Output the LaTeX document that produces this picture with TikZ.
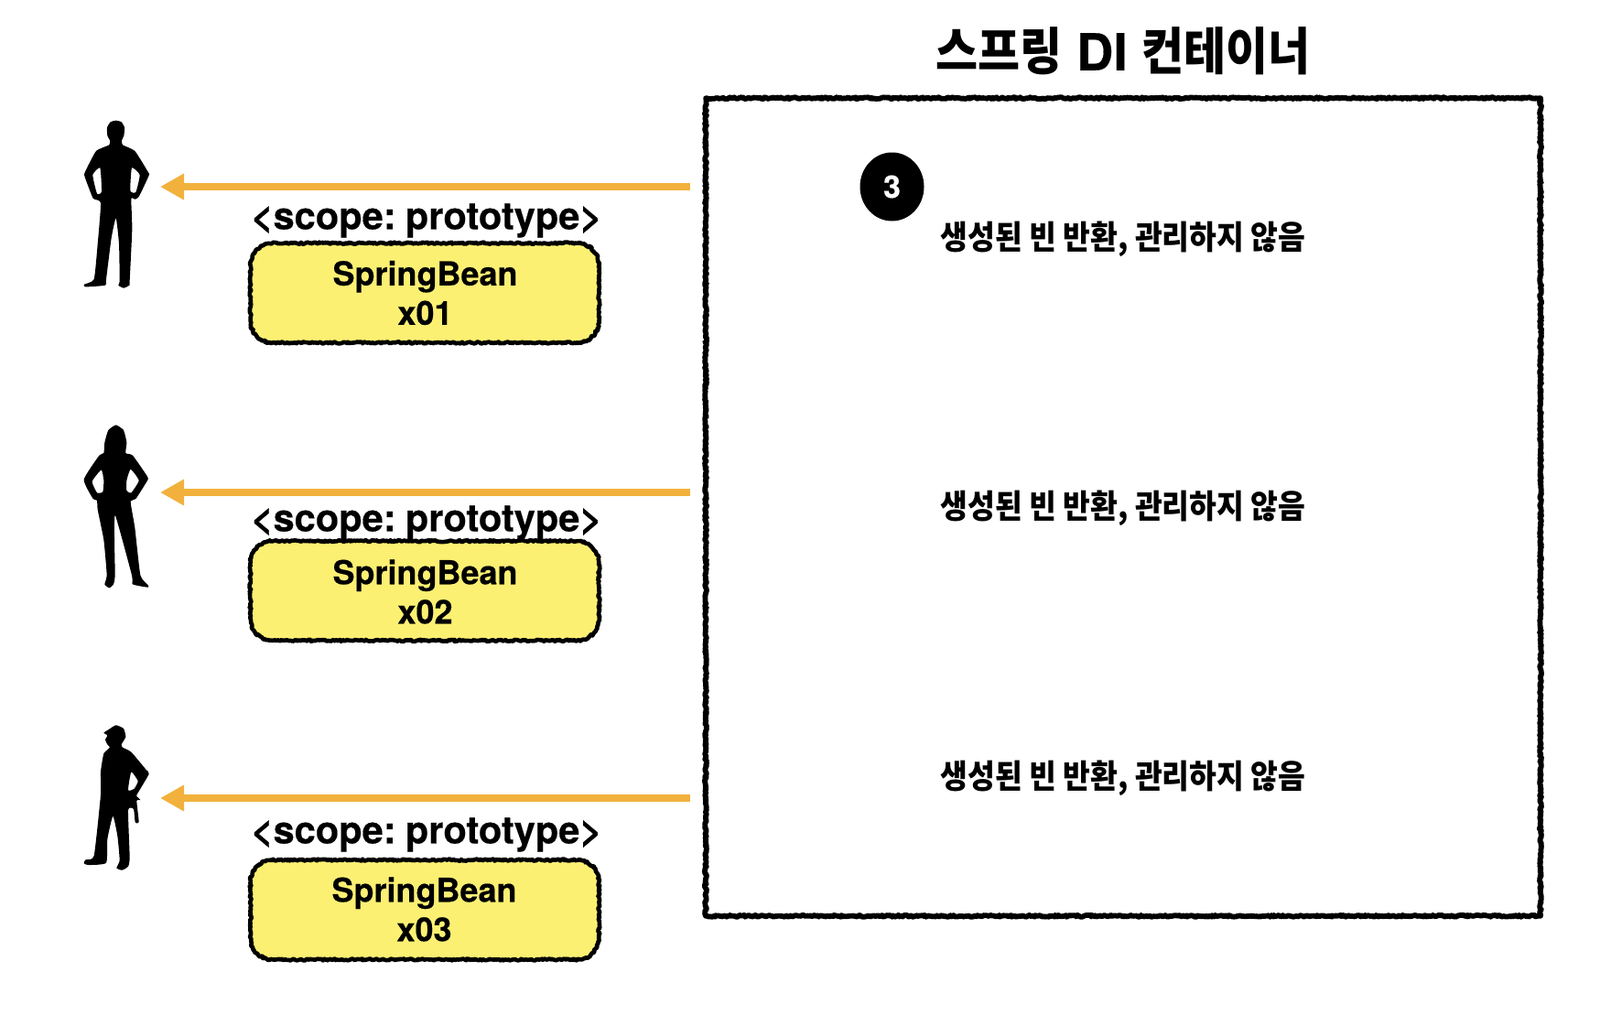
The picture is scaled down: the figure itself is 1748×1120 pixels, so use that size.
\documentclass[tikz,border=0pt]{standalone}
\usepackage{fontspec}
\setmainfont{TeX Gyre Heros}[BoldFeatures={FakeBold=0.35}]
\newfontfamily\labelfont{TeX Gyre Heros}[WordSpace=0.55,BoldFeatures={FakeBold=0.4}]
\newfontfamily\kor{Noto Sans CJK KR}[FakeStretch=0.9]
\usetikzlibrary{arrows.meta,decorations.pathmorphing,shapes.geometric}
\definecolor{myorange}{HTML}{F2B13C}
\definecolor{myyellow}{HTML}{FCF073}
\tikzstyle{rough}=[decorate,line join=round,decoration={random steps,segment length=0.8,amplitude=0.5}]
\tikzstyle{container}=[rough,draw=black,line width=2.9,minimum width=456,minimum height=446.8,inner sep=0]
\tikzstyle{bean}=[minimum width=190,minimum height=54,inner sep=0]
\tikzstyle{beanname}=[inner sep=0,align=center,font=\bfseries\fontsize{18}{21.5}\selectfont]
\tikzstyle{scopelabel}=[inner sep=0,font=\labelfont\bfseries\fontsize{20.8}{24}\selectfont]
\tikzstyle{message}=[inner sep=0,font=\kor\bfseries\fontsize{18}{22}\selectfont]
\tikzstyle{title}=[inner sep=0,font=\bfseries\fontsize{27.8}{32}\selectfont]
\tikzstyle{badge}=[ellipse,fill=black,text=white,minimum width=35,minimum height=37.5,inner sep=0,
                   font=\bfseries\fontsize{17}{20}\selectfont]
\tikzstyle{return}=[-{Triangle[length=13,width=13.5]},myorange,line width=3.6]
\tikzstyle{figure}=[smooth cycle,tension=0.3]
\def\rad{12pt}
\def\roughbox#1{ % yellow box with a charcoal edge
  \draw[rough,draw=black,fill=myyellow,line width=2.3]
    ([xshift=\rad]#1.north west) -- ([xshift=-\rad]#1.north east)
    arc[start angle=90,end angle=0,radius=\rad] -- ([yshift=\rad]#1.south east)
    arc[start angle=0,end angle=-90,radius=\rad] -- ([xshift=\rad]#1.south west)
    arc[start angle=270,end angle=180,radius=\rad] -- ([yshift=-\rad]#1.north west)
    arc[start angle=180,end angle=90,radius=\rad] -- cycle;
}
\def\man{ % zoomed pixels
  plot[figure] coordinates {(200,65) (218,70) (228,88) (226,115) (219,130) (222,145) (262,165) (306,235) (308,245)
    (275,315) (262,323) (250,322) (253,420) (245,590) (244,605) (225,614) (208,605) (212,590) (210,470)
    (200,385) (185,450) (168,585) (165,605) (100,610) (96,602) (128,585) (140,470) (150,335) (125,320)
    (98,250) (98,235) (135,165) (178,145) (180,130) (172,115) (171,88) (182,70)}
  plot[figure] coordinates {(252,220) (278,243) (265,300) (247,295)}
  plot[figure] coordinates {(148,220) (124,243) (138,305) (153,298)}
}
\def\woman{ % zoomed pixels
  plot[figure] coordinates {(200,43) (225,60) (235,100) (232,135) (255,143) (303,212) (303,225) (265,285)
    (248,295) (262,380) (280,535) (305,568) (305,575) (255,565) (252,535) (198,340) (195,420) (197,535)
    (192,565) (178,577) (163,565) (170,535) (160,420) (140,320) (138,290) (125,285) (95,222) (145,143)
    (160,135) (163,100) (175,60)}
  plot[figure] coordinates {(248,188) (275,225) (250,265) (235,258) (235,225)}
  plot[figure] coordinates {(152,190) (122,228) (138,265) (157,262) (160,225)}
}
\def\worker{ % zoomed pixels
  plot[figure] coordinates {(200,37) (225,48) (232,75) (218,100) (222,110) (250,125) (298,182) (308,197)
    (270,262) (268,270) (280,282) (268,285) (275,355) (263,355) (258,312) (240,315) (245,470) (240,500)
    (220,512) (202,505) (212,480) (205,400) (190,335) (172,410) (168,488) (110,495) (95,490) (100,478)
    (128,465) (150,265) (150,190) (160,130) (180,110) (172,100) (165,85) (172,70) (160,62) (178,50)}
  plot[figure] coordinates {(250,190) (272,220) (260,245) (240,250)}
}
\begin{document}
\begin{tikzpicture}[x=0.5pt,y=-0.5pt]
  \useasboundingbox (0,0) rectangle (1748,1120);
  \def\msg{생성된 빈 반환, 관리하지 않음}

  % CONTAINER
  \node[container] (box) at (1227,554) {};
  \node[title] (title) at (1227,56) {{\kor 스프링} DI {\kor 컨테이너}};
  \node[badge] (badge) at (974.5,204) {3};

  % ROWS
  \foreach \i/\ya/\ys/\yb/\yn/\ym/\xn in {1/204/241/320/320/261/464.5,2/538/571/645.5/646.5/555/464.5,3/872/912/994/993.5/850/463.5}{
    \coordinate (from\i) at (754,\ya);
    \coordinate (to\i) at (175,\ya);
    \draw[return] (from\i) -- (to\i);
    \node[scopelabel] (scope\i) at (466,\ys) {<scope: prototype>};
    \node[bean] (bean\i) at (464,\yb) {};
    \roughbox{bean\i}
    \node[beanname] (name\i) at (\xn,\yn) {SpringBean\\x0\i};
    \node[message] (msg\i) at (1227,\ym) {\msg};
  }

  % PEOPLE
  \begin{scope}[shift={(60,110)},x=0.1667pt,y=-0.1667pt]
    \fill[even odd rule] \man;
  \end{scope}
  \begin{scope}[shift={(60,450)},x=0.1667pt,y=-0.1667pt]
    \fill[even odd rule] \woman;
  \end{scope}
  \begin{scope}[shift={(60,780)},x=0.1667pt,y=-0.1667pt]
    \fill[even odd rule] \worker;
  \end{scope}
\end{tikzpicture}
\end{document}
